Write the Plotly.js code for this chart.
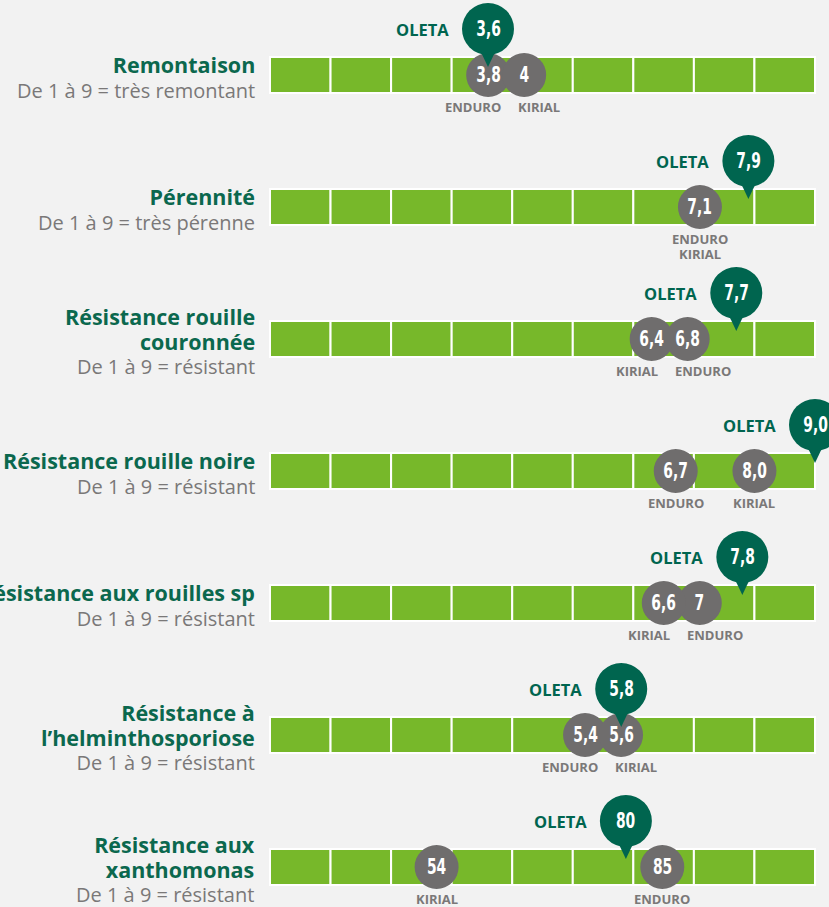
<!DOCTYPE html>
<html>
<head>
<meta charset="utf-8">
<script src="https://cdn.plot.ly/plotly-3.0.1.min.js"></script>
<style>html,body{margin:0;padding:0;background:#f2f2f2;}</style>
</head>
<body>
<div id="chart" style="width:829px;height:907px;"></div>
<script>
// ---- data ----
const criteria = ["Remontaison", "Pérennité", "Résistance rouille<br>couronnée", "Résistance rouille noire",
  "Résistance aux rouilles sp", "Résistance à<br>l’helminthosporiose", "Résistance aux<br>xanthomonas"];
const subtitles = ["De 1 à 9 = très remontant", "De 1 à 9 = très pérenne", "De 1 à 9 = résistant",
  "De 1 à 9 = résistant", "De 1 à 9 = résistant", "De 1 à 9 = résistant", "De 1 à 9 = résistant"];
const oleta = [3.6, 7.9, 7.7, 9.0, 7.8, 5.8, 80];
const oletaText = ["3,6", "7,9", "7,7", "9,0", "7,8", "5,8", "80"];
const enduro = [3.8, 7.1, 6.8, 6.7, 7, 5.4, 85];
const enduroText = ["3,8", "7,1", "6,8", "6,7", "7", "5,4", "85"];
const kirial = [4, 7.1, 6.4, 8.0, 6.6, 5.6, 54];
const kirialText = ["4", "7,1", "6,4", "8,0", "6,6", "5,6", "54"];
const scaleSteps = [1, 2, 3, 4, 5, 6, 7, 8, 9];
const rowAxis = ["x", "x", "x", "x", "x", "x", "x2"];

// ---- styles ----
const GREEN_BAR = "#77b82a", PIN = "#00654f", GREY = "#6f6d6d", TITLE = "#0b684e", SUB = "#7a7878";
const NUMFONT = "DejaVu Sans, sans-serif";
const LBLFONT = "Open Sans, sans-serif";
const NUM_SQUEEZE = 0.66;
const num = t => '<b>' + t + '</b>';

const rows = criteria.map((_, i) => i);

// bar segments
const by = [], bx = [], bbase = [];
rows.forEach(r => scaleSteps.forEach(s => { by.push(r); bx.push(1); bbase.push(s - 1); }));

const traces = [{
  type: "bar", orientation: "h", y: by, x: bx, base: bbase, width: 0.273,
  marker: {color: GREEN_BAR, line: {color: "#ffffff", width: 2}},
  hoverinfo: "skip", showlegend: false
}, {
  type: "scatter", mode: "markers", xaxis: "x2", yaxis: "y",
  x: [oleta[6], enduro[6], kirial[6]], y: [6, 6, 6],
  marker: {opacity: 0}, hoverinfo: "skip", showlegend: false
}];

const shapes = [], annotations = [];

rows.forEach(r => {
  // row labels
  const titleHtml = criteria[r].split("<br>").map(l => "<b>" + l + "</b>").join("<br>");
  annotations.push({
    xref: "paper", yref: "y", x: 257 / 829, y: r, xanchor: "right", yanchor: "middle", align: "right",
    yshift: -2, showarrow: false,
    text: '<span style="font-size:21.5px">' + titleHtml + '</span><br><span style="color:' + SUB +
      ';font-size:20px;font-weight:normal">' + subtitles[r] + "</span>",
    font: {family: LBLFONT, size: 19, color: TITLE}
  });

  const xa = rowAxis[r];
  const unit = xa === "x" ? 545 / 9 : 7.28;
  let items;
  if (enduro[r] === kirial[r]) {
    items = [{v: enduro[r], t: enduroText[r], name: "ENDURO<br>KIRIAL", shift: 0, lshift: 0}];
  } else {
    items = [{v: enduro[r], t: enduroText[r], name: "ENDURO", shift: 0, lshift: 0},
             {v: kirial[r], t: kirialText[r], name: "KIRIAL", shift: 0, lshift: 0}];
    const d = Math.abs(items[0].v - items[1].v) * unit;
    const lo = items[0].v < items[1].v ? 0 : 1;
    const minD = 36, minL = 66;
    if (d < minD) { const e = (minD - d) / 2; items[lo].shift = -e; items[1 - lo].shift = e; }
    if (d < minL) { const e = (minL - d) / 2; items[lo].lshift = -e; items[1 - lo].lshift = e; }
  }
  items.forEach(it => {
    shapes.push({
      type: "circle", xref: xa, yref: "y", xsizemode: "pixel", ysizemode: "pixel",
      xanchor: it.v, yanchor: r, x0: it.shift - 22, x1: it.shift + 22, y0: -22, y1: 22,
      fillcolor: GREY, line: {width: 0}, layer: "above"
    });
    annotations.push({
      xref: xa, yref: "y", x: it.v, y: r, xshift: it.shift, showarrow: false,
      xanchor: "center", yanchor: "middle", text: num(it.t),
      font: {family: NUMFONT, size: 21, color: "#ffffff"}
    });
    annotations.push({
      xref: xa, yref: "y", x: it.v, y: r, xshift: it.lshift, yshift: -21, showarrow: false,
      xanchor: "center", yanchor: "top",
      text: '<span style="font-size:13px">' + it.name.split("<br>").map(l => "<b>" + l + "</b>").join("<br>") + '</span>',
      font: {family: LBLFONT, size: 11.6, color: "#7a7878"}
    });
  });

  // OLETA pin
  shapes.push({
    type: "path", xref: xa, yref: "y", xsizemode: "pixel", ysizemode: "pixel",
    xanchor: oleta[r], yanchor: r, path: "M -9 27 L 9 27 L 0 8 Z",
    fillcolor: PIN, line: {width: 0}, layer: "above"
  });
  shapes.push({
    type: "circle", xref: xa, yref: "y", xsizemode: "pixel", ysizemode: "pixel",
    xanchor: oleta[r], yanchor: r, x0: -26, x1: 26, y0: 20, y1: 72,
    fillcolor: PIN, line: {width: 0}, layer: "above"
  });
  annotations.push({
    xref: xa, yref: "y", x: oleta[r], y: r, yshift: 46, showarrow: false,
    xanchor: "center", yanchor: "middle", text: num(oletaText[r]),
    font: {family: NUMFONT, size: 21, color: "#ffffff"}
  });
  annotations.push({
    xref: xa, yref: "y", x: oleta[r], y: r, yshift: 46, xshift: -37, showarrow: false,
    xanchor: "right", yanchor: "middle", text: "<b>OLETA</b>",
    font: {family: LBLFONT, size: 16.5, color: PIN}
  });
});

const layout = {
  width: 829, height: 907, margin: {l: 0, r: 0, t: 0, b: 0},
  paper_bgcolor: "#f2f2f2", plot_bgcolor: "#f2f2f2",
  xaxis: {range: [-4.4587, 9.2312], visible: false, fixedrange: true},
  xaxis2: {range: [-5.97, 107.9], visible: false, overlaying: "x", fixedrange: true},
  yaxis: {range: [6.303, -0.5682], visible: false, fixedrange: true},
  shapes: shapes, annotations: annotations, showlegend: false
};

Plotly.newPlot("chart", traces, layout, {displayModeBar: false, staticPlot: true}).then(() => {
  // condensed look for the value labels: squeeze glyphs horizontally around their centre
  document.querySelectorAll("#chart text.annotation-text").forEach(el => {
    if ((el.style.fontFamily || "").indexOf("DejaVu") === -1) return;
    const bb = el.getBBox();
    const cx = bb.x + bb.width / 2;
    el.setAttribute("transform", "translate(" + (cx * (1 - NUM_SQUEEZE)) + ",0) scale(" + NUM_SQUEEZE + ",1)");
  });
});
</script>
</body>
</html>
